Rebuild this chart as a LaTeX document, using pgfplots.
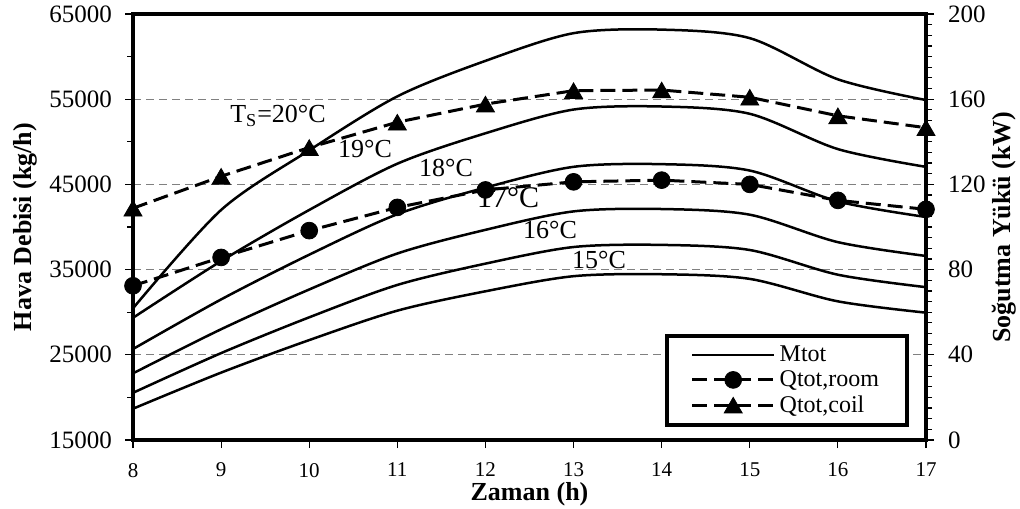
\documentclass[border=0pt]{standalone}
\usepackage{fontspec}
\setmainfont{Liberation Serif}
\usepackage{pgfplots}
\pgfplotsset{compat=1.18}

\pgfplotsset{
  every axis/.append style={
    width=396.5pt, height=213pt, scale only axis,
    at={(0,0)}, anchor=south west,
    xmin=8, xmax=17,
    axis line style={line width=2pt},
    tick style={line width=0.6pt, black},
    major tick length=4pt, minor tick length=3pt,
    tick align=outside,
    scaled ticks=false,
    /pgf/number format/assume math mode=true,
    /pgf/number format/1000 sep={},
  },
  mcurve/.style={black, line width=1.25pt, smooth, no marks},
}

\begin{document}
\begin{tikzpicture}
\path[use as bounding box] (-66.5pt,-34pt) rectangle (443.5pt,220pt);

% left axis: air flow rate for each supply temperature
\begin{axis}[
  ymin=15000, ymax=65000,
  xtick={8,...,17},
  ytick={15000,25000,...,65000},
  minor y tick num=1,
  xtick pos=left, ytick pos=left,
  ymajorgrids,
  major grid style={gray, line width=0.5pt, dash pattern=on 4pt off 2.5pt},
  yticklabel style={font=\fontsize{12.5}{14}\selectfont, xshift=-3pt},
  xticklabel style={font=\fontsize{10.5}{12}\selectfont, yshift=-4pt},
  xlabel={Zaman (h)},
  ylabel={Hava Debisi (kg/h)},
  every axis x label/.style={at={(axis description cs:0.5,-0.128)}, anchor=center, font=\fontsize{13}{15}\selectfont\bfseries},
  every axis y label/.style={at={(axis description cs:-0.136,0.5)}, rotate=90, anchor=center, font=\fontsize{13}{15}\selectfont\bfseries},
]
\addplot[mcurve] coordinates {(8,18673)(9,22909)(10,26727)(11,30182)(12,32455)(13,34227)(14,34455)(15,33909)(16,31273)(17,29945)};
\addplot[mcurve] coordinates {(8,20540)(9,25200)(10,29400)(11,33200)(12,35700)(13,37650)(14,37900)(15,37300)(16,34400)(17,32940)};
\addplot[mcurve] coordinates {(8,22822)(9,28000)(10,32667)(11,36889)(12,39667)(13,41833)(14,42111)(15,41444)(16,38222)(17,36600)};
\addplot[mcurve] coordinates {(8,25675)(9,31500)(10,36750)(11,41500)(12,44625)(13,47063)(14,47375)(15,46625)(16,43000)(17,41175)};
\addplot[mcurve] coordinates {(8,29343)(9,36000)(10,42000)(11,47429)(12,51000)(13,53786)(14,54143)(15,53286)(16,49143)(17,47057)};
\addplot[mcurve] coordinates {(8,30458)(9,42000)(10,49000)(11,55333)(12,59500)(13,62750)(14,63167)(15,62167)(16,57333)(17,54900)};

\node[font=\fontsize{13}{15}\selectfont] at (axis cs:9.646,53000) {T\textsubscript{S}=20°C};
\node[font=\fontsize{13}{15}\selectfont] at (axis cs:10.633,49155) {19°C};
\node[font=\fontsize{13}{15}\selectfont] at (axis cs:11.552,46925) {18°C};
\node[font=\fontsize{15}{17}\selectfont] at (axis cs:12.256,43400) {17°C};
\node[font=\fontsize{13}{15}\selectfont] at (axis cs:12.733,39650) {16°C};
\node[font=\fontsize{13}{15}\selectfont] at (axis cs:13.289,36130) {15°C};
\end{axis}

% right axis: cooling loads
\begin{axis}[
  ymin=0, ymax=200,
  hide x axis,
  axis y line*=right,
  ytick={0,40,...,200},
  minor y tick num=7,
  clip=false,
  yticklabel style={font=\fontsize{12.5}{14}\selectfont, xshift=3.5pt},
  ylabel={Soğutma Yükü (kW)},
  every axis y label/.style={at={(axis description cs:1.098,0.5)}, rotate=90, anchor=center, font=\fontsize{13}{15}\selectfont\bfseries},
  legend style={at={(0.9786,0.0305)}, anchor=south east, draw=black, line width=2pt,
    font=\fontsize{12}{13}\selectfont, inner xsep=12pt, inner ysep=3pt, row sep=-1pt,
    cells={anchor=west}},
  legend image code/.code={\draw[mark repeat=2,mark phase=2] plot coordinates {(0pt,0pt)(20.5pt,0pt)(41pt,0pt)};},
]
\addlegendimage{black, line width=1.25pt, solid}
\addlegendentry{Mtot}
\addplot[black, line width=1.5pt, dash pattern=on 7.5pt off 3.5pt, mark=*, mark size=4.2pt,
  mark options={solid, line width=0.4pt}]
  coordinates {(8,72.4)(9,85.7)(10,98.3)(11,109.2)(12,117.4)(13,121.2)(14,122.0)(15,120.0)(16,112.5)(17,108.3)};
\addlegendentry{Qtot,room}
\addplot[black, line width=1.5pt, dash pattern=on 7.5pt off 3.5pt, mark=triangle*, mark size=5.2pt,
  mark options={solid, line width=0.4pt, yshift=-1.3pt}]
  coordinates {(8,108.8)(9,123.8)(10,137.3)(11,149.2)(12,157.7)(13,164.0)(14,164.3)(15,160.9)(16,152.2)(17,146.6)};
\addlegendentry{Qtot,coil}
\end{axis}
\end{tikzpicture}
\end{document}
